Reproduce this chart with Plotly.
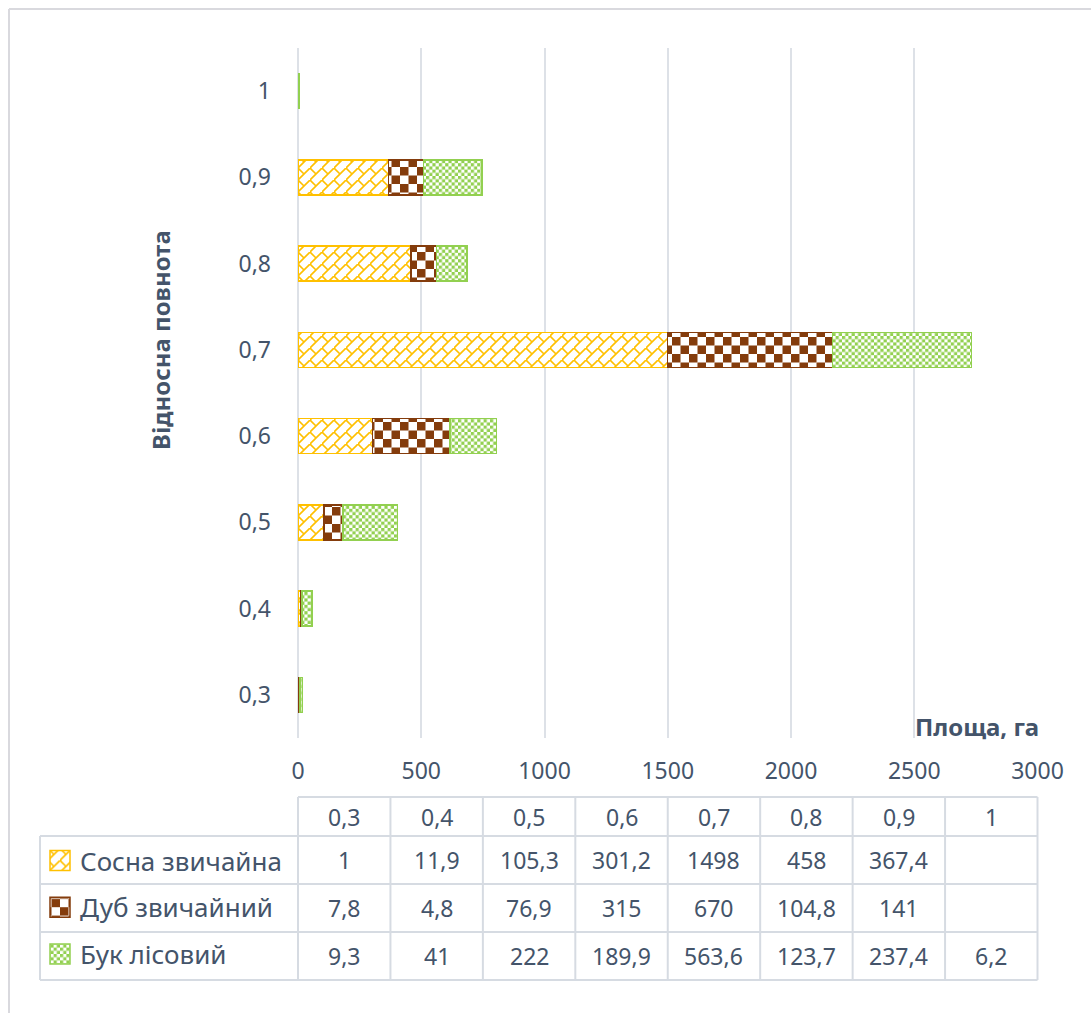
import plotly.graph_objects as go

# Relative stocking classes and area (ha) by species
categories = ["0,3", "0,4", "0,5", "0,6", "0,7", "0,8", "0,9", "1"]
sosna = [1, 11.9, 105.3, 301.2, 1498, 458, 367.4, None]
dub = [7.8, 4.8, 76.9, 315, 670, 104.8, 141, None]
buk = [9.3, 41, 222, 189.9, 563.6, 123.7, 237.4, 6.2]
series_names = ["Сосна звичайна", "Дуб звичайний", "Бук лісовий"]
series_values = [sosna, dub, buk]
series_colors = ["#FFC000", "#843C0C", "#92D050"]
series_uids = ["sosna", "dub", "buk"]
x_ticks = [0, 500, 1000, 1500, 2000, 2500, 3000]

W, H = 1091, 1013
TEXT = "#44546A"
GRID = "#DDE1E7"
FONT = "Noto Sans"
FS = 23


def xp(x):
    return x / W


def yp(y):
    return 1 - y / H


def fmt(v):
    return "" if v is None else f"{v:g}".replace(".", ",")


fig = go.Figure()
for name, vals, col, uid in zip(series_names, series_values, series_colors, series_uids):
    fig.add_trace(go.Bar(
        y=categories, x=vals, name=name, orientation="h", uid=uid,
        legendgroup=uid,
        marker=dict(
            color="white",
            line=dict(color=col, width=1.5),
            pattern=dict(shape="/", fgcolor=col, bgcolor="white", size=10, solidity=0.3),
        ),
        hoverinfo="x+y+name",
    ))

plot_l, plot_r, plot_t, plot_b = 298, 1037.5, 48, 738

fig.update_layout(
    width=W, height=H, autosize=False,
    margin=dict(l=0, r=0, t=0, b=0, autoexpand=False),
    paper_bgcolor="white", plot_bgcolor="white",
    barmode="stack", bargap=0.594,
    font=dict(family=FONT, size=FS, color=TEXT),
    showlegend=True,
    legend=dict(
        x=xp(40), y=yp(837), xanchor="left", yanchor="top",
        bgcolor="rgba(0,0,0,0)", tracegroupgap=10, traceorder="grouped",
        font=dict(family=FONT, size=26, color=TEXT),
    ),
    xaxis=dict(
        domain=[xp(plot_l), xp(plot_r)], range=[0, 3000], automargin=False,
        tickvals=x_ticks, ticktext=[str(t) for t in x_ticks],
        showgrid=True, gridcolor=GRID, gridwidth=1.5,
        zeroline=True, zerolinecolor=GRID, zerolinewidth=1.5,
        showline=False, ticks="", ticklabelstandoff=17,
        tickfont=dict(family=FONT, size=FS, color=TEXT),
        fixedrange=True,
    ),
    yaxis=dict(
        domain=[yp(plot_b), yp(plot_t)], automargin=False,
        categoryorder="array", categoryarray=categories,
        showgrid=False, zeroline=False, showline=False, ticks="",
        ticklabelstandoff=26,
        tickfont=dict(family=FONT, size=FS, color=TEXT),
        fixedrange=True,
    ),
)

shapes = []
ann = []

# chart frame (left and top edges)
frame = dict(color="#D9D9DE", width=2)
shapes.append(dict(type="line", xref="paper", yref="paper",
                   x0=xp(9), x1=xp(9), y0=0, y1=yp(9), line=frame, layer="below"))
shapes.append(dict(type="line", xref="paper", yref="paper",
                   x0=xp(9), x1=1, y0=yp(9), y1=yp(9), line=frame, layer="below"))

# data table grid
col_w = (plot_r - plot_l) / len(categories)
row_lines = [836, 884, 932, 980]
t_top = 797
line_style = dict(color="#D6DBE2", width=2)
shapes.append(dict(type="line", xref="paper", yref="paper",
                   x0=xp(plot_l), x1=xp(plot_r), y0=yp(t_top), y1=yp(t_top), line=line_style))
for yl in row_lines:
    shapes.append(dict(type="line", xref="paper", yref="paper",
                       x0=xp(40), x1=xp(plot_r), y0=yp(yl), y1=yp(yl), line=line_style))
shapes.append(dict(type="line", xref="paper", yref="paper",
                   x0=xp(40), x1=xp(40), y0=yp(row_lines[0]), y1=yp(row_lines[-1]), line=line_style))
for k in range(len(categories) + 1):
    xx = plot_l + k * col_w
    shapes.append(dict(type="line", xref="paper", yref="paper",
                       x0=xp(xx), x1=xp(xx), y0=yp(t_top), y1=yp(row_lines[-1]), line=line_style))

# table text
header_y = (t_top + row_lines[0]) / 2
for k, c in enumerate(categories):
    cx = plot_l + (k + 0.5) * col_w
    ann.append(dict(x=xp(cx), y=yp(header_y), xref="paper", yref="paper",
                    text=c, showarrow=False, xanchor="center", yanchor="middle",
                    font=dict(family=FONT, size=FS, color=TEXT)))
    for r, vals in enumerate(series_values):
        cy = (row_lines[r] + row_lines[r + 1]) / 2
        ann.append(dict(x=xp(cx), y=yp(cy), xref="paper", yref="paper",
                        text=fmt(vals[k]), showarrow=False, xanchor="center", yanchor="middle",
                        font=dict(family=FONT, size=FS, color=TEXT)))

# axis titles
ann.append(dict(x=xp(160), y=yp(340), xref="paper", yref="paper", text="<b>Відносна повнота</b>",
                textangle=-90, showarrow=False, xanchor="center", yanchor="middle",
                font=dict(family=FONT, size=24, color=TEXT)))
ann.append(dict(x=xp(1041), y=yp(726), xref="paper", yref="paper", text="<b>Площа, га</b>",
                showarrow=False, xanchor="right", yanchor="middle",
                font=dict(family=FONT, size=24, color=TEXT)))

fig.update_layout(shapes=shapes, annotations=ann)

# Custom SVG fills: diagonal brick for pine, large/small checkerboards for oak and beech
post_js = """
(function(){
  var NS = 'http://www.w3.org/2000/svg';
  function el(tag, attrs){
    var e = document.createElementNS(NS, tag);
    for (var k in attrs) e.setAttribute(k, attrs[k]);
    return e;
  }
  function reset(p, size){
    while (p.firstChild) p.removeChild(p.firstChild);
    p.setAttribute('width', size); p.setAttribute('height', size);
    p.setAttribute('patternUnits', 'userSpaceOnUse');
    p.removeAttribute('patternTransform');
    p.appendChild(el('rect', {x:0, y:0, width:size, height:size, fill:'#ffffff'}));
  }
  function checker(p, s, col){
    reset(p, 2*s);
    p.appendChild(el('rect', {x:0, y:0, width:s, height:s, fill:col}));
    p.appendChild(el('rect', {x:s, y:s, width:s, height:s, fill:col}));
  }
  function brick(p, s, col){
    reset(p, s);
    p.appendChild(el('path', {d:'M-2,'+(s+2)+'L'+(s+2)+',-2 M0,0L'+(s/2)+','+(s/2),
      stroke:col, 'stroke-width':1.6, fill:'none'}));
  }
  function fix(){
    document.querySelectorAll('pattern').forEach(function(p){
      var id = p.id || '';
      if (id.indexOf('sosna') >= 0) brick(p, 12, '#FFC000');
      else if (id.indexOf('dub') >= 0) checker(p, 8.5, '#843C0C');
      else if (id.indexOf('buk') >= 0) checker(p, 3.2, '#92D050');
    });
    document.querySelectorAll('.legend .legendpoints path').forEach(function(pt){
      pt.setAttribute('d', 'M10,10H-10V-10H10Z');
    });
  }
  var gd = document.getElementById('{plot_id}');
  if (gd && gd.on) gd.on('plotly_afterplot', fix);
  fix();
  setTimeout(fix, 50);
  setTimeout(fix, 300);
})();
"""

fig.write_html("out.html", post_script=post_js, config={"displayModeBar": False})
